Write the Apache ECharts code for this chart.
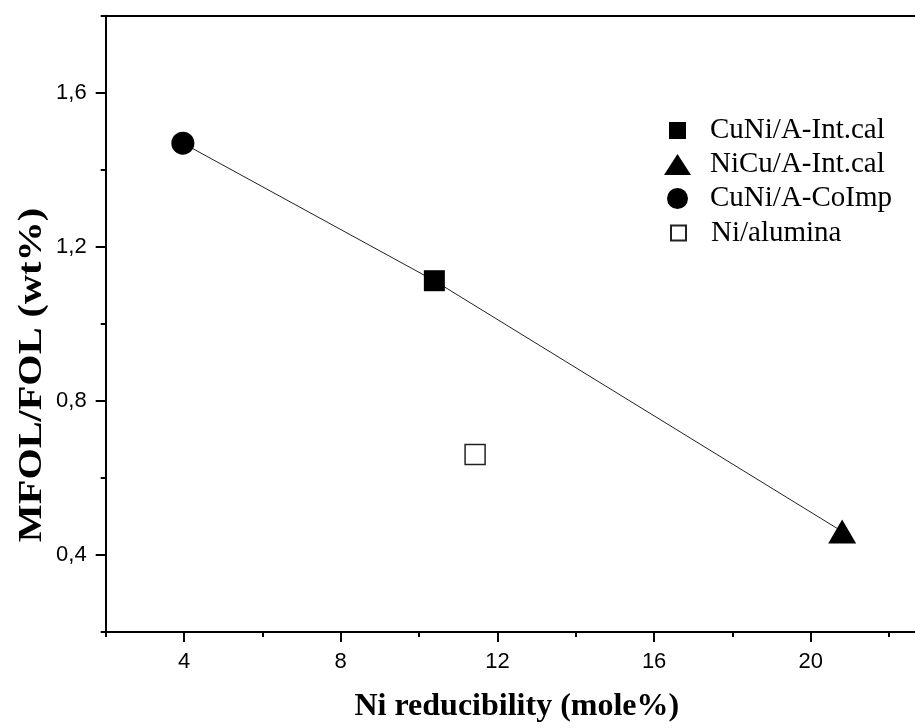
<!DOCTYPE html>
<html>
<head>
<meta charset="utf-8">
<script src="https://cdn.jsdelivr.net/npm/echarts@6/dist/echarts.min.js"></script>
<style>
  html, body { margin: 0; padding: 0; background: #fff; }
  #chart { width: 915px; height: 728px; }
</style>
</head>
<body>
<div id="chart"></div>
<script>
// Samples: [Ni reducibility (mole%), MFOL/FOL (wt%)]
const seriesNames = ['CuNi/A-Int.cal', 'NiCu/A-Int.cal', 'CuNi/A-CoImp', 'Ni/alumina'];
const cuNiIntCal = [[10.39, 1.112]];
const niCuIntCal = [[20.8, 0.461]];
const cuNiCoImp = [[3.97, 1.469]];
const niAlumina = [[11.43, 0.661]];

// Axis ticks
const xMajorTicks = [4, 8, 12, 16, 20];
const xMinorTicks = [2, 6, 10, 14, 18, 22];
const yMajorTicks = [0.4, 0.8, 1.2, 1.6];
const yMinorTicks = [0.2, 0.6, 1.0, 1.4, 1.8];

// Trend line through the bimetallic catalysts, ordered by x
const trendPoints = [].concat(cuNiCoImp, cuNiIntCal, niCuIntCal).sort((a, b) => a[0] - b[0]);

const X_MIN = 2, X_MAX = 22.66, Y_MIN = 0.2, Y_MAX = 1.8;
const INK = '#000';
const sansFont = '"Liberation Sans", Arial, sans-serif';
const serifFont = '"Liberation Serif", "Times New Roman", serif';

const chart = echarts.init(document.getElementById('chart'), null, { renderer: 'canvas' });

function baseX(extra) {
  return Object.assign({
    type: 'value', gridIndex: 0, min: X_MIN, max: X_MAX, interval: 2,
    splitLine: { show: false }
  }, extra);
}
function baseY(extra) {
  return Object.assign({
    type: 'value', gridIndex: 0, min: Y_MIN, max: Y_MAX, interval: 0.2,
    splitLine: { show: false }
  }, extra);
}

// Legend: one block per entry so each marker keeps its own size
const LEGEND_FONT = 29;
const LEGEND_TEXT_H = 27;
const legendIcons = [
  { name: seriesNames[0], w: 17, h: 17, cy: 129.5 },
  { name: seriesNames[1], w: 27, h: 21, cy: 163.5 },
  { name: seriesNames[2], w: 21, h: 21, cy: 197.5 },
  { name: seriesNames[3], w: 15, h: 15, cy: 232 }
];
const iconCx = 677.5, textLeft = 710;
const legends = legendIcons.map(it => ({
  data: [it.name],
  orient: 'vertical',
  left: iconCx - it.w / 2,
  top: it.cy - Math.max(it.h, LEGEND_TEXT_H) / 2,
  padding: 0,
  itemWidth: it.w,
  itemHeight: it.h,
  selectedMode: false,
  textStyle: {
    fontFamily: serifFont, fontSize: LEGEND_FONT, color: INK,
    padding: [0, 0, 0, textLeft - (iconCx + it.w / 2) - 5]
  }
}));

const option = {
  backgroundColor: '#fff',
  animation: false,
  grid: { left: 105.7, top: 15.7, right: 0, bottom: 90.5, containLabel: false },
  legend: legends,
  xAxis: [
    baseX({
      position: 'bottom',
      axisLine: { show: true, lineStyle: { color: INK, width: 2 } },
      axisTick: { show: true, customValues: xMajorTicks, length: 10, lineStyle: { color: INK, width: 2 } },
      axisLabel: {
        customValues: xMajorTicks, margin: 19,
        fontFamily: sansFont, fontSize: 22, color: INK
      },
      name: 'Ni reducibility (mole%)',
      nameLocation: 'middle',
      nameGap: 59,
      nameTextStyle: {
        fontFamily: serifFont, fontWeight: 'bold', fontSize: 32, color: INK,
        padding: [0, 0, 0, 13]
      }
    }),
    baseX({
      position: 'bottom',
      axisLine: { show: false },
      axisTick: { show: true, customValues: xMinorTicks, length: 5, lineStyle: { color: INK, width: 2 } },
      axisLabel: { show: false }
    }),
    baseX({
      position: 'top',
      axisLine: { show: true, lineStyle: { color: INK, width: 2 } },
      axisTick: { show: false },
      axisLabel: { show: false }
    })
  ],
  yAxis: [
    baseY({
      position: 'left',
      axisLine: { show: true, lineStyle: { color: INK, width: 2 } },
      axisTick: { show: true, customValues: yMajorTicks, length: 10, lineStyle: { color: INK, width: 2 } },
      axisLabel: {
        customValues: yMajorTicks, margin: 19,
        fontFamily: sansFont, fontSize: 22, color: INK,
        formatter: v => v.toFixed(1).replace('.', ',')
      }
    }),
    baseY({
      position: 'left',
      axisLine: { show: false },
      axisTick: { show: true, customValues: yMinorTicks, length: 5, lineStyle: { color: INK, width: 2 } },
      axisLabel: { show: false }
    })
  ],
  graphic: [{
    type: 'text',
    x: 32, y: 375,
    rotation: Math.PI / 2,
    scaleX: 1.22,
    style: {
      text: 'MFOL/FOL (wt%)',
      fontFamily: serifFont, fontWeight: 'bold', fontSize: 33, fill: INK,
      align: 'center', verticalAlign: 'middle'
    }
  }],
  series: [
    {
      type: 'line', name: 'trend', data: trendPoints,
      symbol: 'none', silent: true, z: 1,
      lineStyle: { color: '#222', width: 1 }
    },
    {
      type: 'scatter', name: seriesNames[0], data: cuNiIntCal,
      symbol: 'rect', symbolSize: 21, z: 3,
      itemStyle: { color: '#000', opacity: 1 }
    },
    {
      type: 'scatter', name: seriesNames[1], data: niCuIntCal,
      symbol: 'triangle', symbolSize: [28, 24], z: 3,
      itemStyle: { color: '#000', opacity: 1 }
    },
    {
      type: 'scatter', name: seriesNames[2], data: cuNiCoImp,
      symbol: 'circle', symbolSize: 23, z: 3,
      itemStyle: { color: '#000', opacity: 1 }
    },
    {
      type: 'scatter', name: seriesNames[3], data: niAlumina,
      symbol: 'rect', symbolSize: 20, z: 3,
      itemStyle: { color: '#fff', borderColor: '#222', borderWidth: 1.5, opacity: 1 }
    }
  ]
};

chart.setOption(option);
</script>
</body>
</html>
